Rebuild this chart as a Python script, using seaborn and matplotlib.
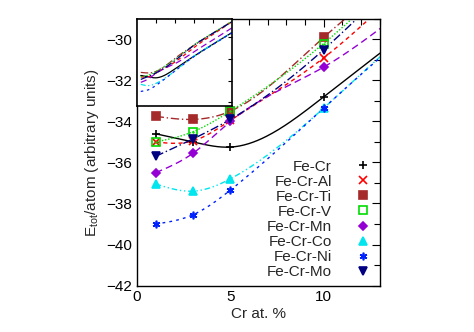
import matplotlib
matplotlib.use("Agg")
import matplotlib.pyplot as plt
import seaborn as sns
import numpy as np

sns.set_theme(style='white')
plt.rcParams['font.family'] = ['Liberation Sans', 'DejaVu Sans']
plt.rcParams['mathtext.default'] = 'regular'

# Cr concentration (at. %) and total energies; points above 13 % are only
# visible in the inset (values estimated from it)
cr = [1, 3, 5, 10, 15, 20, 25]
labels = ['Fe-Cr', 'Fe-Cr-Al', 'Fe-Cr-Ti', 'Fe-Cr-V', 'Fe-Cr-Mn', 'Fe-Cr-Co', 'Fe-Cr-Ni', 'Fe-Cr-Mo']
e_fecr = [-34.6, -35.0, -35.25, -32.8, -29.3, -26.0, -22.8]
e_al = [-35.0, -34.95, -33.95, -30.9, -26.9, -23.3, -19.8]
e_ti = [-33.75, -33.9, -33.5, -29.9, -26.3, -23.0, -19.7]
e_v = [-35.0, -34.5, -33.5, -30.2, -26.2, -22.9, -19.7]
e_mn = [-36.5, -35.55, -34.0, -31.35, -28.1, -24.8, -21.5]
e_co = [-37.05, -37.4, -36.8, -33.35, -29.3, -26.0, -22.8]
e_ni = [-39.0, -38.55, -37.35, -33.35, -29.4, -26.1, -22.8]
e_mo = [-35.7, -34.85, -33.9, -30.5, -26.3, -23.0, -19.8]
series = [e_fecr, e_al, e_ti, e_v, e_mn, e_co, e_ni, e_mo]

colors = ['black', '#ff0000', '#a52a2a', '#00dd00', '#9400d3', '#00e5ee', '#0022ff', '#000080']
markers = ['+', 'x', 's', 's', 'D', '^', (6, 2, 0), 'v']
filled = [False, False, True, False, True, True, False, True]
styles = ['-', (0, (3, 2.5)), (0, (6, 2, 1, 2)), (0, (1, 1.3)), (0, (5, 3)),
          (0, (4, 2, 1, 2, 1, 2)), (0, (2, 3)), (0, (6, 2, 1, 2))]


def csplines(x, y, n=300):
    """Natural cubic spline through the points (like gnuplot 'smooth csplines')."""
    x = np.asarray(x, float)
    y = np.asarray(y, float)
    h = np.diff(x)
    k = len(x)
    A = np.zeros((k, k))
    r = np.zeros(k)
    A[0, 0] = A[-1, -1] = 1
    for i in range(1, k - 1):
        A[i, i - 1] = h[i - 1]
        A[i, i] = 2 * (h[i - 1] + h[i])
        A[i, i + 1] = h[i]
        r[i] = 6 * ((y[i + 1] - y[i]) / h[i] - (y[i] - y[i - 1]) / h[i - 1])
    M = np.linalg.solve(A, r)
    t = np.linspace(x[0], x[-1], n)
    i = np.clip(np.searchsorted(x, t) - 1, 0, k - 2)
    hi = h[i]
    a = x[i + 1] - t
    b = t - x[i]
    s = (M[i] * a ** 3 + M[i + 1] * b ** 3) / (6 * hi) \
        + (y[i] / hi - M[i] * hi / 6) * a + (y[i + 1] / hi - M[i + 1] * hi / 6) * b
    return t, s


fig = plt.figure(figsize=(4.74, 3.32), dpi=100)
ax = fig.add_axes([0.289, 0.140, 0.512, 0.803])

for y, c, ls in zip(series, colors, styles):
    t, s = csplines(cr, y)
    sns.lineplot(x=t, y=s, sort=False, ax=ax, color=c, linestyle=ls, lw=1.0)

for y, lab, c, m, f in zip(series, labels, colors, markers, filled):
    ax.plot(cr, y, ls='none', marker=m, ms=5.5 if m != 'D' else 4.5, color=c,
            mfc=c if f else 'none', mec=c, mew=1.2, label=lab, zorder=5)
# small centre dot of the open V squares
ax.plot(cr, e_v, ls='none', marker='.', ms=1.5, color=colors[3], zorder=6)

ax.set_xlim(0, 13)
ax.set_ylim(-42, -29)
ax.set_xticks([0, 5, 10])
ax.set_xticks(range(0, 14), minor=True)
ax.set_yticks(range(-42, -29, 2))
ax.set_yticks(range(-42, -28), minor=True)
ax.tick_params(which='both', direction='in', top=True, right=True, labelsize=11,
               colors='black', length=4, width=0.8)
ax.tick_params(which='major', length=6)
for sp in ax.spines.values():
    sp.set_color('black')
    sp.set_linewidth(1.0)
ax.set_xlabel('Cr at. %', fontsize=11, labelpad=2)
ax.set_ylabel('E$_{tot}$/atom (arbitrary units)', fontsize=11, labelpad=4)

ax.legend(loc='lower right', bbox_to_anchor=(1.005, -0.016), markerfirst=False, frameon=False,
          fontsize=11, labelspacing=0.07, handlelength=1.0, handletextpad=1.5,
          borderpad=0.2)

# inset: the same curves over the full concentration range
ins = fig.add_axes([0.289, 0.681, 0.2, 0.262])
ins.set_facecolor('white')
for y, c, ls in zip(series, colors, styles):
    t, s = csplines(cr, y)
    sns.lineplot(x=t, y=s, sort=False, ax=ins, color=c, linestyle=ls, lw=0.9)
ins.set_xlim(0, 25)
ins.set_ylim(-43, -19)
ins.set_xticks([5, 10, 15, 20])
ins.set_yticks([-42, -36, -30, -24])
ins.tick_params(direction='in', top=True, right=True, labelleft=False, labelbottom=False,
                length=3, width=0.8, colors='black')
for sp in ins.spines.values():
    sp.set_color('black')
    sp.set_linewidth(1.2)

fig.savefig('out.png', dpi=100)
